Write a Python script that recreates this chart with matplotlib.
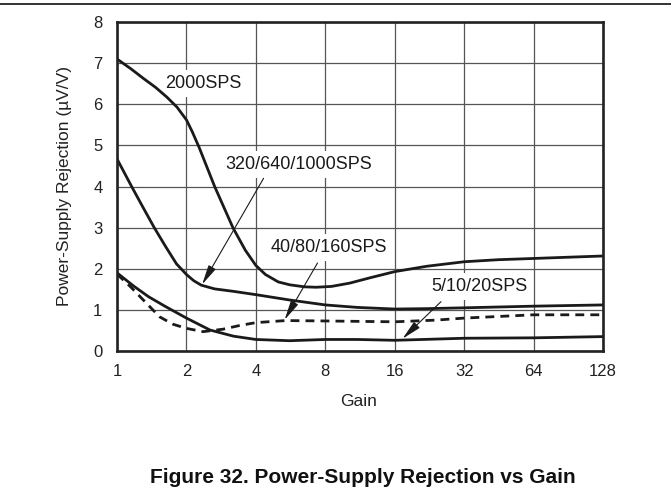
import matplotlib
matplotlib.use("Agg")
import matplotlib.pyplot as plt
from matplotlib.lines import Line2D
from matplotlib.ticker import FixedLocator, FixedFormatter, NullLocator

plt.rcParams['font.family'] = ['Liberation Sans', 'DejaVu Sans']

# ---- data ----
gain_ticks = [1, 2, 4, 8, 16, 32, 64, 128]
gain_labels = ["1", "2", "4", "8", "16", "32", "64", "128"]
y_ticks = [0, 1, 2, 3, 4, 5, 6, 7, 8]

g_2000 = [1, 1.15, 1.30, 1.47, 1.64, 1.82, 2, 2.12, 2.27, 2.65, 3.18, 3.6, 4, 4.4,
          5.0, 5.6, 6.5, 7.3, 8.5, 10.2, 12.5, 16, 22, 32, 45, 64, 90, 128]
v_2000 = [7.10, 6.86, 6.63, 6.41, 6.18, 5.93, 5.62, 5.33, 4.95, 4.00, 3.00, 2.45, 2.08, 1.86,
          1.68, 1.61, 1.56, 1.55, 1.57, 1.65, 1.78, 1.93, 2.06, 2.17, 2.22, 2.25, 2.28, 2.31]

g_1000 = [1, 1.157, 1.30, 1.45, 1.62, 1.81, 2, 2.15, 2.32, 2.65, 3.2, 4, 5.6,
          8, 11, 16, 22, 32, 64, 128]
v_1000 = [4.67, 4.00, 3.48, 3.00, 2.55, 2.12, 1.86, 1.71, 1.60, 1.51, 1.45, 1.37, 1.24,
          1.12, 1.06, 1.02, 1.03, 1.05, 1.09, 1.12]

g_160 = [1, 1.15, 1.30, 1.53, 1.75, 2, 2.36, 2.88, 3.4, 4, 5.4, 8, 16, 24, 32, 64, 128]
v_160 = [1.87, 1.55, 1.24, 0.83, 0.65, 0.55, 0.47, 0.53, 0.62, 0.69, 0.74, 0.73,
         0.71, 0.75, 0.80, 0.88, 0.88]

g_20 = [1, 1.18, 1.37, 1.6, 2, 2.53, 3.2, 4, 5.6, 8, 11, 16, 32, 64, 128]
v_20 = [1.90, 1.58, 1.32, 1.10, 0.80, 0.51, 0.36, 0.28, 0.25, 0.28, 0.28, 0.26,
        0.31, 0.32, 0.35]

labels = ["2000SPS", "320/640/1000SPS", "40/80/160SPS", "5/10/20SPS"]

# ---- figure ----
fig = plt.figure(figsize=(6.71, 4.98), dpi=100)
ax = fig.add_axes([0.1744, 0.2952, 0.7243, 0.6606])

ax.set_xscale('log', base=2)
ax.set_xlim(1, 128)
ax.set_ylim(0, 8)
ax.xaxis.set_major_locator(FixedLocator(gain_ticks))
ax.xaxis.set_major_formatter(FixedFormatter(gain_labels))
ax.xaxis.set_minor_locator(NullLocator())
ax.set_yticks(y_ticks)
ax.set_yticklabels([str(v) for v in y_ticks])

ax.grid(True, which='major', color='#555555', linewidth=0.9, zorder=1)
ax.set_axisbelow(True)
ax.tick_params(axis='both', length=0, labelsize=12, colors='#222222')
ax.tick_params(axis='x', pad=9.5)
ax.tick_params(axis='y', pad=10.5)
for s in ax.spines.values():
    s.set_linewidth(1.9)
    s.set_color('#222222')
    s.set_zorder(5)

lw = 2.0
ax.plot(g_2000, v_2000, color='#1a1a1a', lw=lw, zorder=4, solid_capstyle='round',
        solid_joinstyle='round')
ax.plot(g_1000, v_1000, color='#1a1a1a', lw=lw, zorder=4, solid_capstyle='round',
        solid_joinstyle='round')
ax.plot(g_160, v_160, color='#1a1a1a', lw=lw, zorder=4, linestyle=(0, (3.2, 2.2)))
ax.plot(g_20, v_20, color='#1a1a1a', lw=lw, zorder=4, solid_capstyle='round',
        solid_joinstyle='round')

box = dict(facecolor='white', edgecolor='none', pad=3.5)
txt_kw = dict(fontsize=13, ha='center', va='center', color='#1a1a1a', bbox=box, zorder=3)
ax.text(2.36, 6.51, labels[0], **txt_kw)
ax.text(6.13, 4.53, labels[1], **txt_kw)
ax.text(8.30, 2.51, labels[2], **txt_kw)
ax.text(37.2, 1.56, labels[3], **txt_kw)

arrow_kw = dict(arrowstyle='-|>,head_length=1.2,head_width=0.25', color='#1a1a1a',
                lw=0.8, shrinkA=0, shrinkB=0, mutation_scale=10)
ax.annotate('', xy=(2.34, 1.62), xytext=(4.32, 4.20), arrowprops=arrow_kw, zorder=6)
ax.annotate('', xy=(5.33, 0.76), xytext=(7.40, 2.14), arrowprops=arrow_kw, zorder=6)
ax.annotate('', xy=(17.3, 0.30), xytext=(25.4, 1.20), arrowprops=arrow_kw, zorder=6)

fig.text(64 / 671, 1 - 186.5 / 498, "Power-Supply Rejection (\u00b5V/V)", rotation=90,
         ha='center', va='center', fontsize=12.5, color='#222222')
fig.text(359 / 671, 1 - 401 / 498, "Gain", ha='center', va='center', fontsize=12.5,
         color='#222222')
fig.text(363 / 671, 1 - 477 / 498, "Figure 32. Power-Supply Rejection vs Gain",
         ha='center', va='center', fontsize=15, fontweight='bold', color='#111111')

fig.add_artist(Line2D([0, 1], [1 - 4 / 498, 1 - 4 / 498], transform=fig.transFigure,
                      color='#111111', lw=1.2))

fig.savefig("out.png", dpi=100)
